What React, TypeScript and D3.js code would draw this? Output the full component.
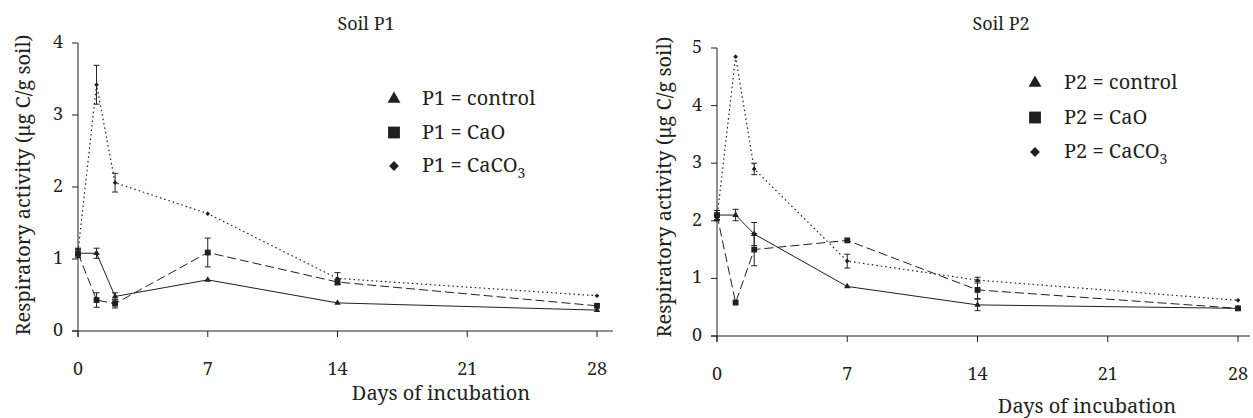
import * as d3 from 'd3';

const days = [0, 1, 2, 7, 14, 28];
const xTicks = [0, 7, 14, 21, 28];

const p1Control = [1.08, 1.08, 0.48, 0.71, 0.39, 0.29];
const p1ControlErr = [0.05, 0.07, 0.05, 0.02, 0.02, 0.03];
const p1CaO = [1.08, 0.43, 0.38, 1.09, 0.68, 0.35];
const p1CaOErr = [0.06, 0.1, 0.06, 0.2, 0.04, 0.03];
const p1CaCO3 = [1.1, 3.42, 2.06, 1.63, 0.73, 0.49];
const p1CaCO3Err = [0.05, 0.27, 0.13, 0.02, 0.08, 0.02];

const p2Control = [2.1, 2.1, 1.77, 0.86, 0.54, 0.48];
const p2ControlErr = [0.08, 0.1, 0.2, 0.02, 0.1, 0.02];
const p2CaO = [2.1, 0.58, 1.5, 1.66, 0.8, 0.48];
const p2CaOErr = [0.08, 0.02, 0.28, 0.02, 0.15, 0.02];
const p2CaCO3 = [2.05, 4.85, 2.9, 1.3, 0.97, 0.62];
const p2CaCO3Err = [0.05, 0.03, 0.1, 0.12, 0.05, 0.02];

const FONT = "'Noto Serif', 'Liberation Serif', serif";
const INK = '#231f20';

const styles = [
  { symbol: d3.symbolTriangle, dash: null, plotSize: 18, legSize: 72 },
  { symbol: d3.symbolSquare, dash: '9 4', plotSize: 34, legSize: 140 },
  { symbol: d3.symbolDiamond2, dash: '1.5 3', plotSize: 14, legSize: 62 },
];

const Panel = ({ soil, yMax, series, errs, left, right, top, bottom, axisExt, titleX, xTitleX, xTitleY, tickLabelY, yTitleX, yTitleY, legendX, legendY, legendGap, legendText }) => {
  const x = d3.scaleLinear().domain([0, 28]).range([left, right]);
  const y = d3.scaleLinear().domain([0, yMax]).range([bottom, top]);
  const line = d3
    .line<number>()
    .x((d, i) => x(days[i]))
    .y((d) => y(d));
  const yTicks = d3.range(0, yMax + 1);
  const names = ['control', 'CaO', 'CaCO'];

  return (
    <g style={{ fontFamily: FONT }} fill={INK}>
      <text x={titleX} y={30} fontSize={18} textAnchor="middle">
        Soil {soil}
      </text>
      {/* axes */}
      <line x1={left} x2={left} y1={top} y2={bottom + 6} stroke={INK} strokeWidth={1} />
      <line x1={left - 6} x2={right + axisExt} y1={bottom} y2={bottom} stroke={INK} strokeWidth={1} />
      {yTicks.map((t) => (
        <g key={t}>
          <line x1={left - 6} x2={left} y1={y(t)} y2={y(t)} stroke={INK} />
          <text x={left - 15} y={y(t) + 5} fontSize={18} textAnchor="end">
            {t}
          </text>
        </g>
      ))}
      {xTicks.map((t) => (
        <g key={t}>
          <line x1={x(t)} x2={x(t)} y1={bottom} y2={bottom + 6} stroke={INK} />
          <text x={x(t)} y={tickLabelY} fontSize={18} textAnchor="middle">
            {t}
          </text>
        </g>
      ))}
      <text x={xTitleX} y={xTitleY} fontSize={20} textAnchor="middle">
        Days of incubation
      </text>
      <text transform={`translate(${yTitleX},${yTitleY}) rotate(-90)`} fontSize={20} textAnchor="middle">
        Respiratory activity (μg C/g soil)
      </text>
      {/* series */}
      {series.map((vals, si) => (
        <g key={si}>
          <path
            d={line(vals)}
            fill="none"
            stroke={INK}
            strokeWidth={si === 2 ? 1.2 : 1}
            strokeDasharray={styles[si].dash || undefined}
          />
          {vals.map((v, i) => {
            const e = errs[si][i];
            return (
              <g key={i}>
                {e > 0.03 && (
                  <g stroke={INK} strokeWidth={1}>
                    <line x1={x(days[i])} x2={x(days[i])} y1={y(v - e)} y2={y(v + e)} />
                    <line x1={x(days[i]) - 3} x2={x(days[i]) + 3} y1={y(v - e)} y2={y(v - e)} />
                    <line x1={x(days[i]) - 3} x2={x(days[i]) + 3} y1={y(v + e)} y2={y(v + e)} />
                  </g>
                )}
                <path
                  transform={`translate(${x(days[i])},${y(v)})`}
                  d={d3.symbol(styles[si].symbol, styles[si].plotSize)()}
                  fill={INK}
                />
              </g>
            );
          })}
        </g>
      ))}
      {/* legend */}
      {names.map((n, i) => (
        <g key={n} transform={`translate(${legendX},${legendY + i * legendGap})`}>
          <path d={d3.symbol(styles[i].symbol, styles[i].legSize)()} fill={INK} />
          <text x={legendText} y={6} fontSize={20}>
            {soil} = {n}
            {i === 2 && (
              <tspan fontSize={14} dy={6}>
                3
              </tspan>
            )}
          </text>
        </g>
      ))}
    </g>
  );
};

export default function App() {
  return (
    <svg
      width={1253}
      height={418}
      style={{ position: 'absolute', left: 0, top: 0, background: '#fff' }}
    >
      <Panel
        soil="P1"
        yMax={4}
        series={[p1Control, p1CaO, p1CaCO3]}
        errs={[p1ControlErr, p1CaOErr, p1CaCO3Err]}
        left={78}
        right={597}
        top={43}
        bottom={331}
        axisExt={16}
        titleX={366}
        xTitleX={441}
        xTitleY={400}
        tickLabelY={375}
        yTitleX={30}
        yTitleY={185}
        legendX={394}
        legendY={99}
        legendGap={33.5}
        legendText={28}
      />
      <Panel
        soil="P2"
        yMax={5}
        series={[p2Control, p2CaO, p2CaCO3]}
        errs={[p2ControlErr, p2CaOErr, p2CaCO3Err]}
        left={717}
        right={1238}
        top={48}
        bottom={336}
        axisExt={12}
        titleX={1001}
        xTitleX={1087}
        xTitleY={413}
        tickLabelY={380}
        yTitleX={671}
        yTitleY={187}
        legendX={1035}
        legendY={83}
        legendGap={34.5}
        legendText={29}
      />
    </svg>
  );
}
